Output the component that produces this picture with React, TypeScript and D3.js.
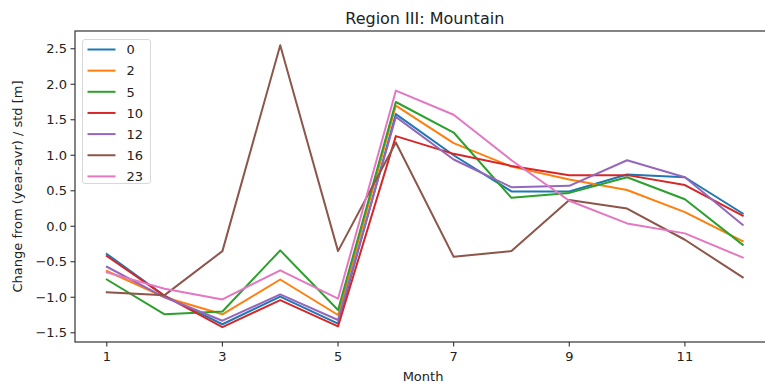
import React from "react";
import * as d3 from "d3";

const months = [1, 2, 3, 4, 5, 6, 7, 8, 9, 10, 11, 12];
const seriesNames = ["0", "2", "5", "10", "12", "16", "23"];
const s0 = [-0.39, -0.98, -1.38, -0.99, -1.37, 1.58, 1.0, 0.49, 0.49, 0.73, 0.69, 0.18];
const s2 = [-0.63, -1.0, -1.24, -0.75, -1.25, 1.7, 1.17, 0.84, 0.66, 0.51, 0.2, -0.21];
const s5 = [-0.75, -1.24, -1.2, -0.34, -1.18, 1.75, 1.32, 0.4, 0.47, 0.69, 0.38, -0.26];
const s10 = [-0.42, -0.98, -1.42, -1.04, -1.41, 1.27, 1.02, 0.85, 0.72, 0.72, 0.58, 0.15];
const s12 = [-0.57, -1.0, -1.33, -0.96, -1.32, 1.54, 0.94, 0.55, 0.57, 0.93, 0.69, 0.02];
const s16 = [-0.93, -0.97, -0.35, 2.55, -0.35, 1.18, -0.43, -0.35, 0.37, 0.25, -0.19, -0.72];
const s23 = [-0.65, -0.88, -1.03, -0.62, -1.02, 1.91, 1.57, 0.93, 0.36, 0.04, -0.1, -0.44];
const seriesValues = [s0, s2, s5, s10, s12, s16, s23];
const colors = ["#1f77b4", "#ff7f0e", "#2ca02c", "#d62728", "#9467bd", "#8c564b", "#e377c2"];
const xTicks = [1, 3, 5, 7, 9, 11];
const yTicks = [-1.5, -1.0, -0.5, 0.0, 0.5, 1.0, 1.5, 2.0, 2.5];
const title = "Region III: Mountain";
const xLabel = "Month";
const yLabel = "Change from (year-avr) / std [m]";

export default function App() {
  const W = 765, H = 385;
  const left = 75, right = 774.5, top = 31, bottom = 342;
  const x = d3.scaleLinear().domain([1 - 0.55, 12 + 0.55]).range([left, right]);
  const y = d3.scaleLinear().domain([-1.63, 2.75]).range([bottom, top]);
  const line = d3.line<number>().x((_, i) => x(months[i])).y((v) => y(v));
  const font = "'DejaVu Sans', sans-serif";
  const fs = 13;
  const legX = 82.5, legY = 39.5, legW = 68, legH = 144;
  return (
    <svg width={W} height={H} style={{ position: "absolute", left: 0, top: 0, background: "#fff" }}
      fontFamily={font}>
      <rect x={0} y={0} width={W} height={H} fill="#fff" />
      <defs>
        <clipPath id="clip">
          <rect x={left} y={top} width={right - left} height={bottom - top} />
        </clipPath>
      </defs>
      <g clipPath="url(#clip)">
        {seriesValues.map((vals, k) => (
          <path key={k} d={line(vals) || ""} fill="none" stroke={colors[k]} strokeWidth={2}
            strokeLinejoin="round" strokeLinecap="square" />
        ))}
      </g>
      <rect x={left} y={top} width={right - left} height={bottom - top} fill="none" stroke="#333" strokeWidth={1.2} />
      {xTicks.map((t) => (
        <g key={t}>
          <line x1={x(t)} x2={x(t)} y1={bottom} y2={bottom + 4.5} stroke="#333" strokeWidth={1.1} />
          <text x={x(t)} y={bottom + 19} textAnchor="middle" fontSize={fs} fill="#222">{t}</text>
        </g>
      ))}
      {yTicks.map((t) => (
        <g key={t}>
          <line x1={left - 4.5} x2={left} y1={y(t)} y2={y(t)} stroke="#333" strokeWidth={1.1} />
          <text x={left - 8} y={y(t) + 4.7} textAnchor="end" fontSize={fs} fill="#222">
            {t < 0 ? "\u2212" + Math.abs(t).toFixed(1) : t.toFixed(1)}
          </text>
        </g>
      ))}
      <text x={(left + right) / 2} y={24} textAnchor="middle" fontSize={16} fill="#222">{title}</text>
      <text x={423} y={381} textAnchor="middle" fontSize={fs} fill="#222">{xLabel}</text>
      <text transform={`translate(22, ${(top + bottom) / 2}) rotate(-90)`} textAnchor="middle" fontSize={fs} fill="#222">{yLabel}</text>
      <rect x={legX} y={legY} width={legW} height={legH} rx={2.5} fill="#fff" fillOpacity={0.8} stroke="#d8d8d8" strokeWidth={1} />
      {seriesNames.map((n, k) => {
        const ry = 49.5 + k * 21.15;
        return (
          <g key={n}>
            <line x1={87.5} x2={115.5} y1={ry} y2={ry} stroke={colors[k]} strokeWidth={2} />
            <text x={126.5} y={ry + 4.7} fontSize={fs} fill="#222">{n}</text>
          </g>
        );
      })}
    </svg>
  );
}
